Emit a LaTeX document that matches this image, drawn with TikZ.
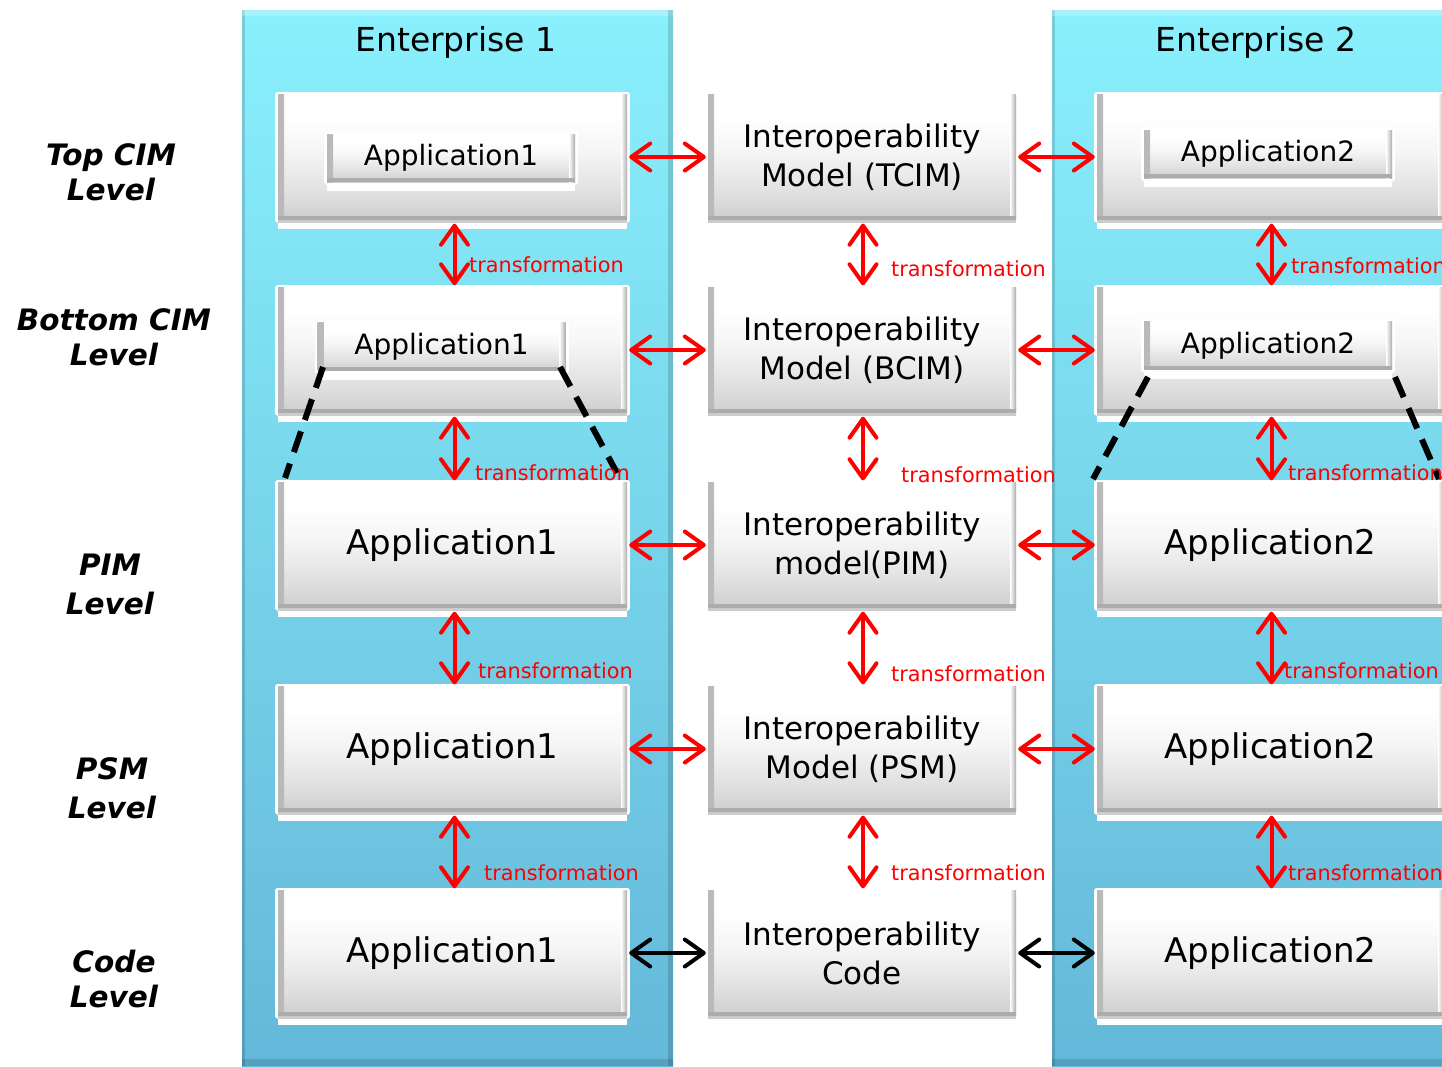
\documentclass[tikz,border=0pt]{standalone}
\usepackage{fontspec}
\setmainfont{DejaVu Sans}
\newfontfamily\levelfont{DejaVu Sans}[BoldItalicFont={DejaVu Sans Bold Oblique}]
\usetikzlibrary{arrows.meta,shadows}

\definecolor{colTop}{HTML}{8AF0FC}
\definecolor{colBot}{HTML}{64B8D9}
\definecolor{linkred}{HTML}{FF0000}

% bevelled button fill: white on top, light grey towards the bottom
\pgfdeclareverticalshading{bevelfill}{100bp}{color(0bp)=(gray!38); color(25bp)=(gray!38); color(36bp)=(gray!24); color(52bp)=(gray!8); color(66bp)=(white); color(100bp)=(white)}

\newcommand\fsTitle{\fontsize{33}{40}\selectfont}
\newcommand\fsApp{\fontsize{34}{40}\selectfont}
\newcommand\fsSmallApp{\fontsize{28}{34}\selectfont}
\newcommand\fsModel{\fontsize{31}{39}\selectfont}
\newcommand\fsTrans{\fontsize{20.8}{24}\selectfont}

\tikzset{
  column/.style={rectangle, inner sep=0pt, anchor=north west,
    top color=colTop, bottom color=colBot,
    path picture={
      \fill[black,opacity=0.14] (path picture bounding box.south west) rectangle ([xshift=3pt]path picture bounding box.north west);
      \fill[white,opacity=0.25] ([yshift=-6pt]path picture bounding box.north west) rectangle (path picture bounding box.north east);
      \fill[black,opacity=0.14] ([xshift=-5pt]path picture bounding box.south east) rectangle (path picture bounding box.north east);
      \fill[black,opacity=0.12] (path picture bounding box.south west) rectangle ([yshift=7pt]path picture bounding box.south east);
    }},
  bevel/.style={rectangle, inner sep=0pt, align=center, shading=bevelfill,
    preaction={draw=white, line width=6pt, line join=round},
    general shadow={fill=white, shadow yshift=-9pt},
    general shadow={fill=gray!40, shadow yshift=-3pt},
    path picture={
      \shade[left color=gray!55, right color=white] (path picture bounding box.south west) rectangle ([xshift=6pt]path picture bounding box.north west);
      \shade[left color=white, right color=gray!65] ([xshift=-6pt]path picture bounding box.south east) rectangle (path picture bounding box.north east);
      \fill[gray!65] (path picture bounding box.south west) rectangle ([yshift=4pt]path picture bounding box.south east);
    }},
  bigbox/.style={bevel, minimum height=125pt, font=\fsApp},
  leftbox/.style={bigbox, minimum width=349pt},
  midbox/.style={bigbox, minimum width=308pt, font=\fsModel},
  rightbox/.style={bigbox, minimum width=347pt},
  innerbox/.style={bevel, minimum width=248pt, minimum height=48pt, font=\fsSmallApp,
    general shadow={fill=white, shadow yshift=-6pt}},
  title/.style={inner sep=0pt, font=\fsTitle},
  level/.style={inner sep=0pt, align=center, font=\levelfont\bfseries\itshape\fontsize{29.5}{35}\selectfont},
  translabel/.style={inner sep=0pt, anchor=west, text=linkred, font=\fsTrans},
  link/.style={line width=4pt, shorten <=2pt, shorten >=2pt,
    {Straight Barb[length=19pt,width=27pt,line width=4pt,round]}-{Straight Barb[length=19pt,width=27pt,line width=4pt,round]}},
  redlink/.style={link, draw=linkred},
  blacklink/.style={link, draw=black},
  uplink/.style={redlink, shorten <=4pt, shorten >=2pt},
  refine/.style={line width=6pt, dash pattern=on 22pt off 12pt}
}

\begin{document}
\begin{tikzpicture}[x=1pt,y=-1pt]
\clip (0,0) rectangle (1442,1066);
\fill[white] (0,0) rectangle (1442,1066);

% enterprise columns
\node[column, minimum width=431pt, minimum height=1056pt] (ent1) at (242,10) {};
\node[column, minimum width=420pt, minimum height=1056pt] (ent2) at (1052,10) {};
\node[title] (ent1t) at (456,42) {Enterprise 1};
\node[title] (ent2t) at (1256,42) {Enterprise 2};

% level captions
\node[level] (lvtop) at (111,172) {Top CIM\\Level};
\node[level] (lvbot) at (114,337) {Bottom CIM\\Level};
\node[level, font=\levelfont\bfseries\itshape\fontsize{29.5}{39}\selectfont] (lvpim) at (110,584) {PIM\\Level};
\node[level, font=\levelfont\bfseries\itshape\fontsize{29.5}{39}\selectfont] (lvpsm) at (112,788) {PSM\\Level};
\node[level] (lvcode) at (114,979) {Code\\Level};

% enterprise 1
\node[leftbox] (l1) at (452.5,157) {};
\node[innerbox] (l1i) at (451,158) {Application1};
\node[leftbox] (l2) at (452.5,350) {};
\node[innerbox] (l2i) at (441.5,346.5) {Application1};
\node[leftbox] (l3) at (452.5,545) {Application1};
\node[leftbox] (l4) at (452.5,749) {Application1};
\node[leftbox] (l5) at (452.5,953) {Application1};

% interoperability models
\node[midbox] (m1) at (862,157) {Interoperability\\Model (TCIM)};
\node[midbox] (m2) at (862,350) {Interoperability\\Model (BCIM)};
\node[midbox] (m3) at (862,545) {Interoperability\\model(PIM)};
\node[midbox] (m4) at (862,749) {Interoperability\\Model (PSM)};
\node[midbox] (m5) at (862,953) {Interoperability\\Code};

% enterprise 2
\node[rightbox] (r1) at (1270.5,157) {};
\node[innerbox] (r1i) at (1268,154) {Application2};
\node[rightbox] (r2) at (1270.5,350) {};
\node[innerbox] (r2i) at (1268,345.5) {Application2};
\node[rightbox] (r3) at (1270.5,545) {Application2};
\node[rightbox] (r4) at (1270.5,749) {Application2};
\node[rightbox] (r5) at (1270.5,953) {Application2};

% refinement of the bottom CIM applications into the PIM
\coordinate (d1a) at (323,367);  \coordinate (d1b) at (285,478);
\coordinate (d2a) at (560,367);  \coordinate (d2b) at (617,473);
\coordinate (d3a) at (1148,377); \coordinate (d3b) at (1093,479);
\coordinate (d4a) at (1395,377); \coordinate (d4b) at (1439,479);
\draw[refine] (d1a) -- (d1b);
\draw[refine] (d2a) -- (d2b);
\draw[refine] (d3a) -- (d3b);
\draw[refine] (d4a) -- (d4b);

% horizontal exchanges
\foreach \i in {1,2,3,4} {
  \draw[redlink] (l\i.east) -- (m\i.west);
  \draw[redlink] (m\i.east) -- (r\i.west);
}
\draw[blacklink] (l5.east) -- (m5.west);
\draw[blacklink] (m5.east) -- (r5.west);

% vertical transformations
\foreach \i/\j in {1/2,2/3,3/4,4/5} {
  \draw[uplink] ([xshift=2pt]l\i.south) -- ([xshift=2pt]l\j.north);
  \draw[uplink] ([xshift=1pt]m\i.south) -- ([xshift=1pt]m\j.north);
  \draw[uplink] ([xshift=1pt]r\i.south) -- ([xshift=1pt]r\j.north);
}

% transformation labels
\node[translabel] (tl1) at (469,265) {transformation};
\node[translabel] (tl2) at (475,473) {transformation};
\node[translabel] (tl3) at (478,671) {transformation};
\node[translabel] (tl4) at (484,873) {transformation};
\node[translabel] (tm1) at (891,269) {transformation};
\node[translabel] (tm2) at (901,475) {transformation};
\node[translabel] (tm3) at (891,674) {transformation};
\node[translabel] (tm4) at (891,873) {transformation};
\node[translabel] (tr1) at (1291,266) {transformation};
\node[translabel] (tr2) at (1288,473) {transformation};
\node[translabel] (tr3) at (1284,671) {transformation};
\node[translabel] (tr4) at (1288,873) {transformation};
\end{tikzpicture}
\end{document}
